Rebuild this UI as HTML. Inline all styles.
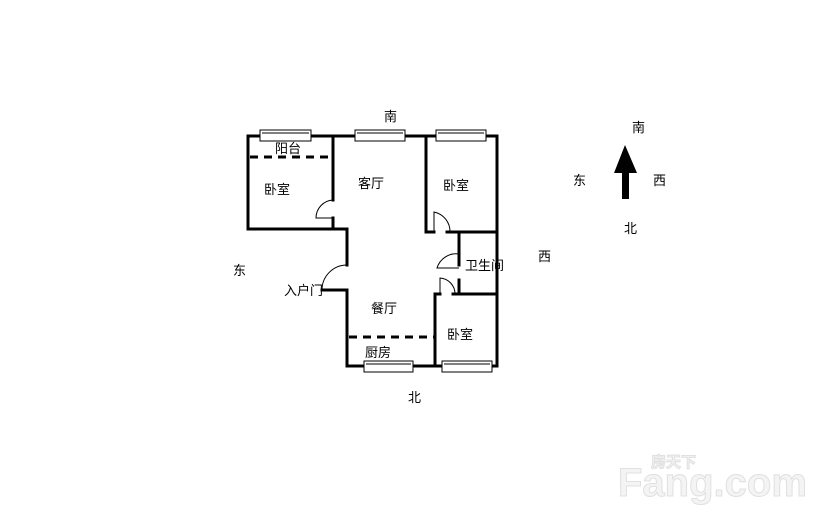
<!DOCTYPE html>
<html><head><meta charset="utf-8"><style>
body{margin:0;background:#fff;}
svg text{font-family:"Liberation Sans","Noto Sans CJK SC",sans-serif;font-size:13px;fill:#000;}
</style></head><body>
<svg width="814" height="519" viewBox="0 0 814 519" xmlns="http://www.w3.org/2000/svg">
<rect width="814" height="519" fill="#fff"/>
<g stroke="#000" stroke-width="3" fill="none" stroke-linecap="square">
<path d="M248 136H497V366"/>
<path d="M248 136V229H333"/>
<path d="M333 136V200M333 218V229H347V265M347 290V366H497"/>
<path d="M322 290H347"/>
<path d="M426 136V232H434M447 232H497"/>
<path d="M459 232V265M459 280V294H453M497 294H453"/>
<path d="M435 294V366"/>
<path d="M435 294H440"/>
</g>
<g stroke="#000" stroke-width="3" stroke-dasharray="8,6" fill="none">
<path d="M250 157H333"/>
<path d="M349 337H435"/>
</g>
<g stroke="#000" stroke-width="1" fill="none">
<path d="M333 200A18 18 0 0 0 316 218H333"/>
<path d="M347 265A25 25 0 0 0 322 290"/>
<path d="M434 232V212A20 20 0 0 1 450 232"/>
<path d="M459 254A20 20 0 0 0 437 268H459"/>
<path d="M440 294V278A16 16 0 0 1 455 294"/>
</g>
<g fill="#fff" stroke="#000" stroke-width="1">
<rect x="260" y="130" width="51" height="11"/>
<rect x="355" y="130" width="50" height="11"/>
<rect x="436" y="130" width="50" height="11"/>
<rect x="364" y="361" width="49" height="11"/>
<rect x="442" y="361" width="50" height="11"/>
</g>
<g stroke="#000" stroke-width="1" fill="none">
<path d="M262 133H309M357 133H403M438 133H484M366 364H411M444 364H490"/>
</g>
<text x="384" y="121">南</text>
<text x="275" y="153">阳台</text>
<text x="264" y="194">卧室</text>
<text x="358" y="188">客厅</text>
<text x="443" y="190">卧室</text>
<text x="465" y="270">卫生间</text>
<text x="538" y="261">西</text>
<text x="233" y="275">东</text>
<text x="284" y="295">入户门</text>
<text x="371" y="313">餐厅</text>
<text x="447" y="339">卧室</text>
<text x="365" y="357">厨房</text>
<text x="408" y="402">北</text>
<text x="632" y="132">南</text>
<text x="573" y="185">东</text>
<text x="653" y="185">西</text>
<text x="624" y="233">北</text>
<path d="M625 145L614 173H622V199H629V173H637Z" fill="#000"/>
<g stroke="#e0e0e0" stroke-width="1">
<text x="618" y="496" style="font-size:40px;fill:#f4f4f4;font-weight:bold">Fang.com</text>
<text x="651" y="467" style="font-size:15px;fill:#f4f4f4;font-weight:bold">房天下</text>
</g>
</svg>
</body></html>
